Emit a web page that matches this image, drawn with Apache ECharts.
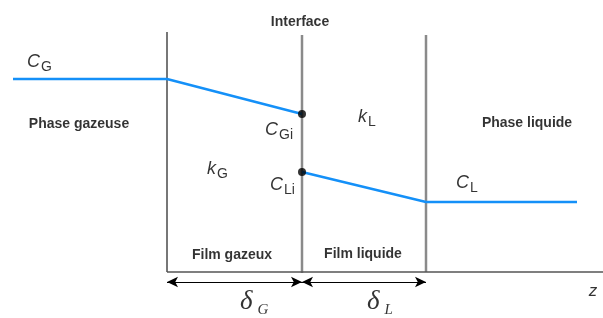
<!DOCTYPE html>
<html>
<head>
<meta charset="utf-8">
<script src="https://cdn.jsdelivr.net/npm/echarts@6/dist/echarts.min.js"></script>
<style>
  html, body { margin: 0; padding: 0; background: #fff; }
  #chart { width: 603px; height: 318px; }
</style>
</head>
<body>
<div id="chart"></div>
<script>
// diagram units = pixels of the 603x318 picture, y grows downward
const GAS_PROFILE = [[13, 79], [167, 79], [302, 114]];
const LIQ_PROFILE = [[302, 172], [426, 202], [577, 202]];
const INTERFACE_POINTS = [[302, 114], [302, 172]];
const WALLS = [
  { x: 167, top: 32, bottom: 272, color: "#4a4a4a", width: 1.5 },
  { x: 302, top: 35, bottom: 273, color: "#8a8a8a", width: 2.5 },
  { x: 426, top: 35, bottom: 272, color: "#8a8a8a", width: 2.5 },
];
const BASELINE = [[167, 272], [603, 272]];
const SPANS = [[167, 302, 282], [302, 426, 282]];

const BOLD_LABELS = [
  { text: "Interface", x: 300, y: 22 },
  { text: "Phase gazeuse", x: 79, y: 124 },
  { text: "Phase liquide", x: 527, y: 123 },
  { text: "Film gazeux", x: 232, y: 255 },
  { text: "Film liquide", x: 363, y: 254 },
];
// main letter, subscript, left edge x, centre y
const SYMBOL_LABELS = [
  ["C", "G", 27, 62],
  ["C", "Gi", 265, 130],
  ["k", "L", 358, 117],
  ["k", "G", 207, 169],
  ["C", "Li", 270, 185],
  ["C", "L", 456, 183],
];
const THICKNESS_LABELS = [
  ["δ", "G", 240, 302],
  ["δ", "L", 367, 302],
];

const chart = echarts.init(document.getElementById("chart"));

const blue = "#1490f8";

const wallSeries = WALLS.map((w) => ({
  type: "line",
  data: [[w.x, w.top], [w.x, w.bottom]],
  showSymbol: false,
  lineStyle: { color: w.color, width: w.width },
  z: 2,
  silent: true,
}));

const spanLines = SPANS.map((s) => [
  { coord: [s[0], s[2]] },
  { coord: [s[1], s[2]] },
]);

const option = {
  animation: false,
  grid: { left: 0, right: 0, top: 0, bottom: 0 },
  xAxis: { type: "value", min: 0, max: 603, show: false },
  yAxis: { type: "value", min: 0, max: 318, inverse: true, show: false },
  series: [
    ...wallSeries,
    {
      type: "line",
      data: BASELINE,
      showSymbol: false,
      lineStyle: { color: "#555", width: 1.5 },
      silent: true,
      markLine: {
        silent: true,
        symbol: ["arrow", "arrow"],
        symbolSize: [8, 11],
        label: { show: false },
        lineStyle: { color: "#000", width: 1.2, type: "solid" },
        data: spanLines,
      },
    },
    {
      type: "line",
      data: GAS_PROFILE,
      showSymbol: false,
      lineStyle: { color: blue, width: 2.5 },
      z: 3,
    },
    {
      type: "line",
      data: LIQ_PROFILE,
      showSymbol: false,
      lineStyle: { color: blue, width: 2.5 },
      z: 3,
    },
    {
      type: "scatter",
      data: INTERFACE_POINTS,
      symbolSize: 8,
      itemStyle: { color: "#000" },
      z: 4,
    },
    {
      type: "scatter",
      symbolSize: 0,
      data: BOLD_LABELS.map((l) => ({ value: [l.x, l.y], name: l.text })),
      label: {
        show: true,
        position: "inside",
        formatter: (p) => p.name,
        color: "#000",
        fontFamily: "Liberation Sans",
        fontWeight: "bold",
        fontSize: 14,
      },
    },
    {
      type: "scatter",
      symbolSize: 0,
      data: SYMBOL_LABELS.map((l) => ({ value: [l[2], l[3]], name: l[0] + "|" + l[1] })),
      label: {
        show: true,
        position: "right",
        distance: 0,
        formatter: (p) => {
          const [m, s] = p.name.split("|");
          return `{m|${m}}{s|${s}}`;
        },
        rich: {
          m: { fontFamily: "Liberation Sans", fontStyle: "italic", fontSize: 18, color: "#000" },
          s: { fontFamily: "Liberation Sans", fontSize: 14, color: "#000", padding: [10, 0, 0, 1] },
        },
      },
    },
    {
      type: "scatter",
      symbolSize: 0,
      data: THICKNESS_LABELS.map((l) => ({ value: [l[2], l[3]], name: l[0] + "|" + l[1] })),
      label: {
        show: true,
        position: "right",
        distance: 0,
        formatter: (p) => {
          const [m, s] = p.name.split("|");
          return `{m|${m}}{s|${s}}`;
        },
        rich: {
          m: { fontFamily: "Liberation Serif", fontStyle: "italic", fontSize: 27, color: "#000" },
          s: { fontFamily: "Liberation Serif", fontStyle: "italic", fontSize: 15, color: "#000", padding: [16, 0, 0, 5] },
        },
      },
    },
    {
      type: "scatter",
      symbolSize: 0,
      data: [{ value: [593, 291], name: "z" }],
      label: {
        show: true,
        position: "inside",
        formatter: (p) => p.name,
        fontFamily: "Liberation Sans",
        fontStyle: "italic",
        fontSize: 17,
        color: "#000",
      },
    },
  ],
};

chart.setOption(option);
window.addEventListener("resize", () => chart.resize());
</script>
</body>
</html>
